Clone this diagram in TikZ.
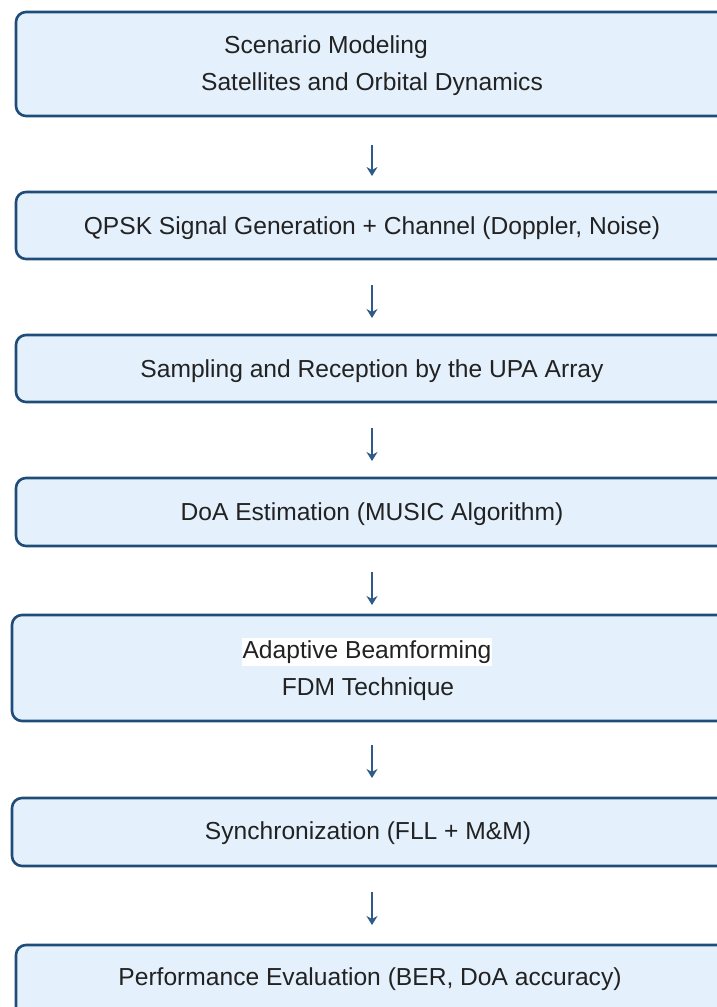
\documentclass[tikz,border=0pt]{standalone}
\usepackage{fontspec}
\setmainfont{Liberation Sans}
\usetikzlibrary{arrows.meta}
\definecolor{boxline}{HTML}{1F4D7A}
\definecolor{boxfill}{HTML}{E4F0FC}
\definecolor{arrcol}{HTML}{2E5B88}
\definecolor{txt}{HTML}{222222}
\tikzset{
  stepbox/.style={draw=boxline, line width=2.6pt, fill=boxfill, rounded corners=10pt,
    anchor=north west, inner sep=0pt, outer sep=0pt},
  lbl/.style={text=txt, font=\fontsize{24.6}{28}\selectfont, inner sep=0pt, anchor=center},
  arr/.style={draw=arrcol, line width=1.6pt, -{Stealth[length=9pt,width=11pt,inset=3pt]}}
}
\begin{document}
\begin{tikzpicture}[x=1pt,y=-1pt]
\useasboundingbox (0,0) rectangle (717,1007);
\fill[white] (0,0) rectangle (717,1007);
\node[stepbox, minimum width=714pt, minimum height=104pt] (b1) at (16,12) {};
\node[stepbox, minimum width=714pt, minimum height=67pt] (b2) at (16,192) {};
\node[stepbox, minimum width=714pt, minimum height=67pt] (b3) at (16,335) {};
\node[stepbox, minimum width=714pt, minimum height=68pt] (b4) at (16,478) {};
\node[stepbox, minimum width=718pt, minimum height=106pt] (b5) at (12,615) {};
\node[stepbox, minimum width=718pt, minimum height=68pt] (b6) at (12,798) {};
\node[stepbox, minimum width=714pt, minimum height=100pt] (b7) at (16,945) {};

\node[lbl] (t1a) at (326,47) {Scenario Modeling};
\node[lbl] (t1b) at (372,84) {Satellites and Orbital Dynamics};
\node[lbl] (t2) at (372,228) {QPSK Signal Generation + Channel (Doppler, Noise)};
\node[lbl] (t3) at (372,371) {Sampling and Reception by the UPA Array};
\node[lbl] (t4) at (372,514) {DoA Estimation (MUSIC Algorithm)};
\node[lbl, fill=white, inner xsep=1pt, inner ysep=3pt] (t5a) at (367,652) {Adaptive Beamforming};
\node[lbl] (t5b) at (368,689) {FDM Technique};
\node[lbl] (t6) at (368,833) {Synchronization (FLL + M\&M)};
\node[lbl] (t7) at (370,979) {Performance Evaluation (BER, DoA accuracy)};

\coordinate (a1s) at (372,145); \coordinate (a1e) at (372,176);
\coordinate (a2s) at (372,285); \coordinate (a2e) at (372,318);
\coordinate (a3s) at (372,428); \coordinate (a3e) at (372,461);
\coordinate (a4s) at (372,572); \coordinate (a4e) at (372,605);
\coordinate (a5s) at (372,745); \coordinate (a5e) at (372,778);
\coordinate (a6s) at (372,892); \coordinate (a6e) at (372,925);
\foreach \i in {1,...,6} \draw[arr] (a\i s) -- (a\i e);
\end{tikzpicture}
\end{document}
